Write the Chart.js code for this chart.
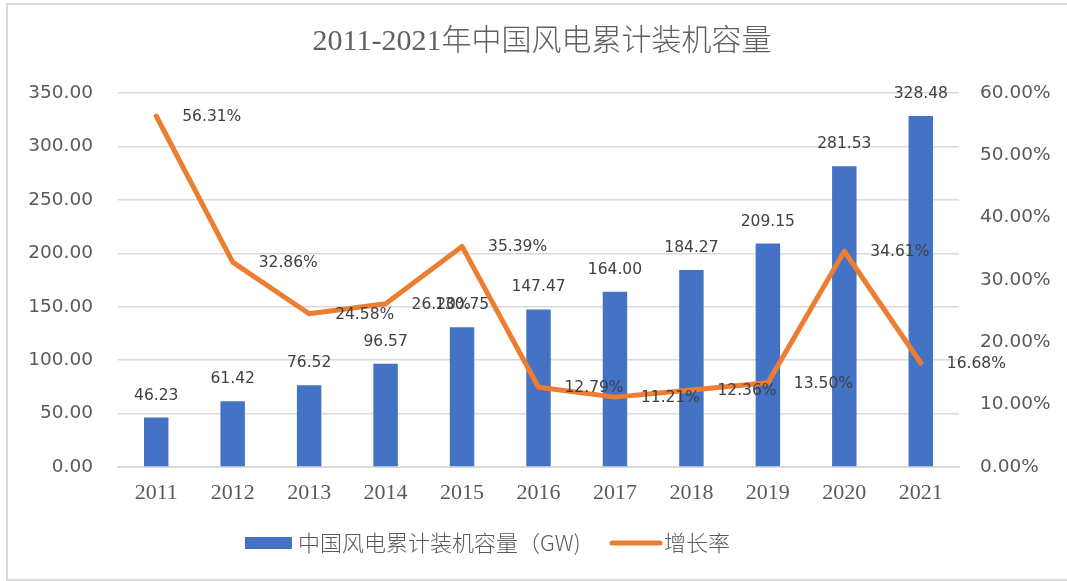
<!DOCTYPE html>
<html><head><meta charset="utf-8">
<script src="https://cdn.jsdelivr.net/npm/chart.js@4.4.0/dist/chart.umd.min.js"></script>
<style>html,body{margin:0;padding:0;background:#fff;}canvas{display:block;}</style>
</head><body>
<canvas id="c" width="1067" height="581"></canvas>
<script>
const titleText = '2011-2021年中国风电累计装机容量';
const categories = ['2011','2012','2013','2014','2015','2016','2017','2018','2019','2020','2021'];
const capacity = [46.23, 61.42, 76.52, 96.57, 130.75, 147.47, 164.00, 184.27, 209.15, 281.53, 328.48];
const growth = [56.31, 32.86, 24.58, 26.20, 35.39, 12.79, 11.21, 12.36, 13.50, 34.61, 16.68];
const seriesNames = ['中国风电累计装机容量（GW)', '增长率'];
const leftAxis = {min: 0, max: 350, step: 50};
const rightAxis = {min: 0, max: 60, step: 10};

const BLUE = '#4472C4', ORANGE = '#ED7D31', TEXT = '#595959', LABEL = '#404040', GRID = '#d9d9d9';
const sansFont = '"DejaVu Sans", Verdana, sans-serif';

const framePlugin = {
  id: 'frame',
  beforeDraw(chart) {
    const ctx = chart.ctx;
    ctx.save();
    ctx.fillStyle = '#fff';
    ctx.fillRect(0, 0, chart.width, chart.height);
    ctx.strokeStyle = GRID;
    ctx.lineWidth = 2;
    ctx.strokeRect(7, 4, chart.width + 10, 576);
    ctx.restore();
  },
  afterDraw(chart) {
    const ctx = chart.ctx;
    ctx.save();
    // title
    ctx.font = '300 30px "Liberation Serif", "Noto Sans CJK SC", serif';
    ctx.fillStyle = '#606060';
    ctx.textAlign = 'center';
    ctx.textBaseline = 'middle';
    ctx.fillText(titleText, 542, 42);
    // legend
    const ly = 543;
    ctx.fillStyle = BLUE;
    ctx.fillRect(245, ly - 6, 47, 12);
    ctx.font = '300 22px "Noto Sans CJK SC", sans-serif';
    ctx.fillStyle = TEXT;
    ctx.textAlign = 'left';
    ctx.fillText(chart.data.datasets[0].label, 298, ly);
    ctx.strokeStyle = ORANGE;
    ctx.lineWidth = 5;
    ctx.lineCap = 'round';
    ctx.beginPath();
    ctx.moveTo(612, ly);
    ctx.lineTo(660, ly);
    ctx.stroke();
    ctx.fillText(chart.data.datasets[1].label, 664, ly);
    ctx.restore();
  },
  afterDatasetsDraw(chart) {
    const ctx = chart.ctx;
    ctx.save();
    ctx.font = '15.5px ' + sansFont;
    ctx.fillStyle = LABEL;
    ctx.textBaseline = 'middle';
    const barMeta = chart.getDatasetMeta(0);
    ctx.textAlign = 'center';
    barMeta.data.forEach((el, i) => {
      ctx.fillText(capacity[i].toFixed(2), el.x, el.y - 22);
    });
    const lineMeta = chart.getDatasetMeta(1);
    ctx.textAlign = 'left';
    lineMeta.data.forEach((el, i) => {
      ctx.fillText(growth[i].toFixed(2) + '%', el.x + 26, el.y + 1);
    });
    ctx.restore();
  }
};

new Chart(document.getElementById('c'), {
  data: {
    labels: categories,
    datasets: [
      {type: 'bar', label: seriesNames[0], data: capacity, backgroundColor: BLUE, yAxisID: 'y',
       barPercentage: 0.32, categoryPercentage: 1, order: 1},
      {type: 'line', label: seriesNames[1], data: growth, borderColor: ORANGE, backgroundColor: ORANGE,
       borderWidth: 5, pointRadius: 0, tension: 0, borderJoinStyle: 'round', borderCapStyle: 'round',
       yAxisID: 'y1', order: 0}
    ]
  },
  options: {
    responsive: false,
    devicePixelRatio: 1,
    animation: false,
    layout: {padding: {top: 93, left: 0, right: 0, bottom: 0}},
    plugins: {legend: {display: false}, title: {display: false}, tooltip: {enabled: false}},
    scales: {
      x: {
        grid: {display: false, drawTicks: false},
        border: {display: true, color: GRID, width: 2},
        ticks: {color: TEXT, font: {family: '"Liberation Serif", serif', size: 22}, padding: 13},
        afterFit(s) { s.height = 114; }
      },
      y: {
        position: 'left', min: leftAxis.min, max: leftAxis.max,
        grid: {color: GRID, lineWidth: 1.5, drawTicks: false},
        border: {display: false},
        ticks: {stepSize: leftAxis.step, color: TEXT, font: {family: sansFont, size: 18.5}, padding: 25,
                callback: v => Number(v).toFixed(2)},
        afterFit(s) { s.width = 118; }
      },
      y1: {
        position: 'right', min: rightAxis.min, max: rightAxis.max,
        grid: {display: false, drawTicks: false},
        border: {display: false},
        ticks: {stepSize: rightAxis.step, color: TEXT, font: {family: sansFont, size: 18.5}, padding: 21,
                callback: v => Number(v).toFixed(2) + '%'},
        afterFit(s) { s.width = 108; }
      }
    }
  },
  plugins: [framePlugin]
});
</script>
</body></html>
